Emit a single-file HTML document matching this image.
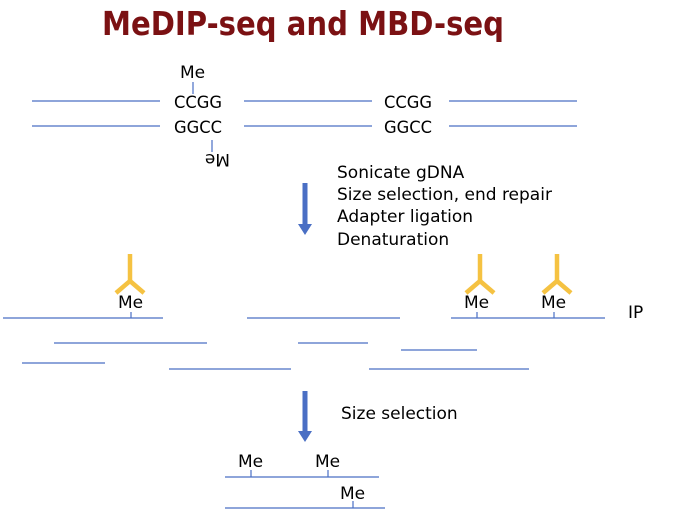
<!DOCTYPE html>
<html><head><style>
html,body{margin:0;padding:0;background:#fff;}
svg{display:block;}
text{font-family:"DejaVu Sans","Liberation Sans",sans-serif;fill:#000;}
</style></head><body>
<svg width="686" height="523" viewBox="0 0 686 523" xmlns="http://www.w3.org/2000/svg">
<text x="102" y="35" font-size="33" font-weight="bold" style="fill:#7b1113" textLength="402" lengthAdjust="spacingAndGlyphs">MeDIP-seq and MBD-seq</text>
<g stroke="#4a6fc4" stroke-width="1.2">
<line x1="32" y1="101" x2="160" y2="101"/><line x1="244" y1="101" x2="372" y2="101"/><line x1="449" y1="101" x2="577" y2="101"/>
<line x1="32" y1="126" x2="160" y2="126"/><line x1="244" y1="126" x2="372" y2="126"/><line x1="449" y1="126" x2="577" y2="126"/>
<line x1="3" y1="318" x2="163" y2="318"/><line x1="247" y1="318" x2="400" y2="318"/><line x1="451" y1="318" x2="605" y2="318"/>
<line x1="54" y1="343" x2="207" y2="343"/><line x1="298" y1="343" x2="368" y2="343"/>
<line x1="401" y1="350" x2="477" y2="350"/>
<line x1="22" y1="363" x2="105" y2="363"/>
<line x1="169" y1="369" x2="291" y2="369"/><line x1="369" y1="369" x2="529" y2="369"/>
<line x1="225" y1="477" x2="379" y2="477"/>
<line x1="225" y1="508" x2="385" y2="508"/>
<line x1="131" y1="312" x2="131" y2="318"/><line x1="477" y1="312" x2="477" y2="318"/><line x1="554" y1="312" x2="554" y2="318"/>
<line x1="251" y1="470" x2="251" y2="477"/><line x1="328" y1="470" x2="328" y2="477"/><line x1="353" y1="501" x2="353" y2="508"/>
<line x1="193" y1="82" x2="193" y2="94"/><line x1="212" y1="140" x2="212" y2="152"/>
</g>
<g font-size="17">
<text x="174" y="108" textLength="48" lengthAdjust="spacingAndGlyphs">CCGG</text><text x="384" y="108" textLength="48" lengthAdjust="spacingAndGlyphs">CCGG</text>
<text x="174" y="133" textLength="48" lengthAdjust="spacingAndGlyphs">GGCC</text><text x="384" y="133" textLength="48" lengthAdjust="spacingAndGlyphs">GGCC</text>
<text x="180" y="78">Me</text>
<text x="0" y="0" transform="translate(230,154) rotate(180)">Me</text>
<text x="337" y="178">Sonicate gDNA</text>
<text x="337" y="200">Size selection, end repair</text>
<text x="337" y="222">Adapter ligation</text>
<text x="337" y="245">Denaturation</text>
<text x="118" y="308">Me</text><text x="464" y="308">Me</text><text x="541" y="308">Me</text>
<text x="628" y="318">IP</text>
<text x="341" y="419">Size selection</text>
<text x="238" y="467">Me</text><text x="315" y="467">Me</text><text x="340" y="499">Me</text>
</g>
<g fill="#4a6fc4">
<rect x="302.5" y="391" width="5" height="41"/><polygon points="298,431 312,431 305,442"/>
<rect x="302.5" y="183" width="5" height="42"/><polygon points="298,224 312,224 305,235"/>
</g>
<g stroke="#f5c242" stroke-width="4.5" fill="none" stroke-linejoin="miter">
<polyline points="130,254 130,281"/><polyline points="116,293 130,281 144,293"/>
<polyline points="480,254 480,281"/><polyline points="466,293 480,281 494,293"/>
<polyline points="557,254 557,281"/><polyline points="543,293 557,281 571,293"/>
</g>
</svg>
</body></html>
